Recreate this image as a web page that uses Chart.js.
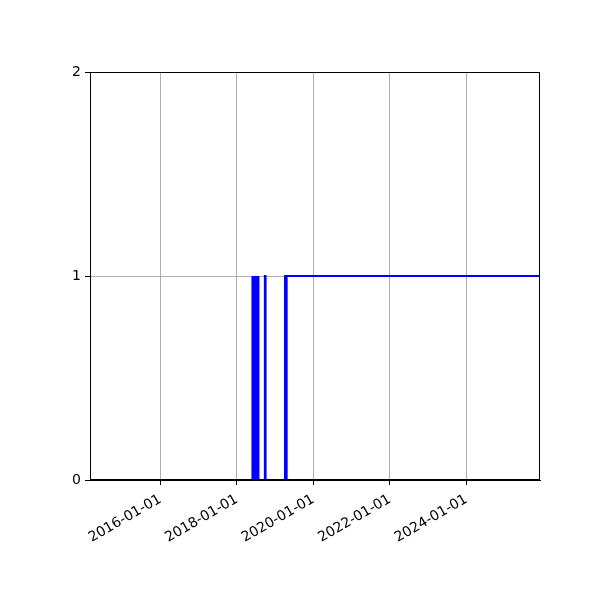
<!DOCTYPE html>
<html>
<head>
<meta charset="utf-8">
<script src="https://cdn.jsdelivr.net/npm/chart.js@4/dist/chart.umd.min.js"></script>
<style>
html,body{margin:0;padding:0;background:#fff;}
#wrap{width:600px;height:600px;}
</style>
</head>
<body>
<div id="wrap"><canvas id="c" width="600" height="600"></canvas></div>
<script>
// Data (dates and state values)
const dates = [
  "2014-03-01","2018-05-27",
  "2018-05-28","2018-05-31","2018-06-04","2018-06-07","2018-06-11","2018-06-14",
  "2018-06-18","2018-06-21","2018-06-25","2018-06-28","2018-07-02","2018-07-05",
  "2018-07-09","2018-07-12","2018-07-16","2018-07-19","2018-07-23","2018-07-26",
  "2018-09-24","2018-09-25","2018-10-01","2018-10-02",
  "2019-04-04","2019-04-05","2019-04-12","2019-04-13","2019-04-20","2019-04-21",
  "2025-12-03"
];
const values = [
  0,0,
  1,0,1,0,1,0,
  1,0,1,0,1,0,
  1,0,1,0,1,0,
  0,1,1,0,
  0,1,1,0,0,1,
  1
];
const xTickLabels = ["2016-01-01","2018-01-01","2020-01-01","2022-01-01","2024-01-01"];
const yTickValues = [0,1,2];
const xMinDate = "2014-03-01";
const xMaxDate = "2025-12-03";

const toMs = s => { const [y,m,d] = s.split("-").map(Number); return Date.UTC(y,m-1,d); };
const pad2 = n => String(n).padStart(2,"0");
const fmt = ms => { const d = new Date(ms); return d.getUTCFullYear()+"-"+pad2(d.getUTCMonth()+1)+"-"+pad2(d.getUTCDate()); };

const points = dates.map((d,i)=>({x:toMs(d), y:values[i]}));

const frame = {
  id:'frame',
  afterDraw(chart){
    const {ctx, chartArea:a} = chart;
    ctx.save();
    ctx.strokeStyle = '#000';
    ctx.lineWidth = 1;
    ctx.strokeRect(Math.round(a.left)+0.5, Math.round(a.top)+0.5, Math.round(a.right-a.left)-1, Math.round(a.bottom-a.top)-1);
    ctx.restore();
  }
};

new Chart(document.getElementById('c'), {
  type:'line',
  data:{datasets:[{
    data:points,
    borderColor:'#0000ff',
    borderWidth:2,
    pointRadius:0,
    fill:false,
    tension:0
  }]},
  options:{
    responsive:false,
    animation:false,
    layout:{padding:{left:0,right:60,top:72,bottom:0}},
    plugins:{legend:{display:false},tooltip:{enabled:false}},
    scales:{
      x:{
        type:'linear',
        min:toMs(xMinDate),
        max:toMs(xMaxDate),
        afterBuildTicks(scale){ scale.ticks = xTickLabels.map(s=>({value:toMs(s)})); },
        afterFit(scale){ scale.height = 120; },
        ticks:{
          autoSkip:false,
          maxRotation:30, minRotation:30,
          color:'#000',
          font:{family:'DejaVu Sans', size:14},
          padding:6,
          callback:(v)=>fmt(v)
        },
        grid:{color:'#b0b0b0', tickColor:'#000', tickLength:5, lineWidth:1},
        border:{display:true,color:'#000'}
      },
      y:{
        min:0, max:2,
        afterBuildTicks(scale){ scale.ticks = yTickValues.map(v=>({value:v})); },
        afterFit(scale){ scale.width = 90; },
        ticks:{
          color:'#000',
          font:{family:'DejaVu Sans', size:14},
          padding:4,
          callback:(v)=>String(v)
        },
        grid:{color:'#b0b0b0', tickColor:'#000', tickLength:5, lineWidth:1},
        border:{display:true,color:'#000'}
      }
    }
  },
  plugins:[frame]
});
</script>
</body>
</html>
